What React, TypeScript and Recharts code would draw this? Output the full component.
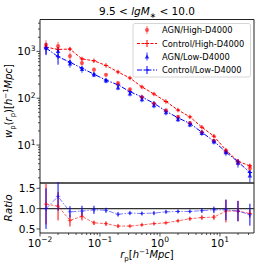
import React from 'react';
import { ComposedChart, Line, Scatter, XAxis, YAxis, ErrorBar, ReferenceLine, ReferenceArea } from 'recharts';

// projected separation r_p [h^-1 Mpc]
const rp = [0.0126, 0.02, 0.0316, 0.0501, 0.0794, 0.126, 0.2, 0.316, 0.501, 0.794, 1.26, 2.0, 3.16, 5.01, 7.94, 12.6, 20.0, 31.6];

// w_p(r_p) values
const agnHigh = [1380, 1290, 795, 562, 407, 316, 209, 155, 105, 76, 55, 40, 29.5, 18.6, 12.3, 7.2, 4.2, 3.2];
const agnHighErr = [350, 300, 150, 70, 40, 25, 18, 13, 9, 6, 4.5, 3.5, 2.5, 1.8, 1.2, 0.8, 0.6, 0.6];
const ctrlHigh = [1230, 1100, 1120, 690, 630, 500, 363, 270, 174, 123, 85, 56, 40, 24, 15.5, 7.8, 4.5, 3.6];
const ctrlHighErr = [150, 100, 80, 40, 20, 15, 10, 7, 5, 4, 3, 2, 1.5, 1, 0.8, 0.5, 0.4, 0.3];
const agnLow = [1180, 1000, 540, 410, 316, 234, 166, 123, 93, 69, 49, 35, 27, 17.8, 11.7, 6.9, 4.1, 2.2];
const agnLowErr = [300, 250, 90, 60, 35, 25, 18, 14, 11, 8, 6, 4, 3, 2, 1.4, 1.0, 0.8, 0.6];
const ctrlLow = [1180, 770, 587, 436, 326, 244, 193, 138, 106, 78, 53, 38, 29, 18.7, 12.1, 7.1, 4.4, 2.6];
const ctrlLowErr = [350, 250, 60, 30, 15, 10, 7, 5, 4, 3, 2, 1.5, 1.2, 0.9, 0.7, 0.5, 0.4, 0.3];

// ratios AGN / Control
const ratioHigh = [1.11, 1.06, 0.71, 0.81, 0.65, 0.63, 0.57, 0.57, 0.60, 0.63, 0.65, 0.70, 0.75, 0.78, 0.79, 0.94, 0.94, 0.88];
const ratioHighErr = [0.5, 0.35, 0.15, 0.1, 0.05, 0.05, 0.04, 0.03, 0.03, 0.03, 0.03, 0.03, 0.04, 0.05, 0.06, 0.28, 0.25, 0.1];
const ratioLow = [1.0, 1.30, 0.92, 0.94, 0.97, 0.96, 0.86, 0.89, 0.88, 0.89, 0.92, 0.93, 0.93, 0.95, 0.97, 0.97, 0.94, 0.85];
const ratioLowErr = [0.5, 0.35, 0.14, 0.13, 0.1, 0.06, 0.05, 0.04, 0.04, 0.04, 0.04, 0.04, 0.04, 0.05, 0.08, 0.25, 0.25, 0.27];

// ticks
const xTicks = [0.01, 0.02, 0.03, 0.04, 0.05, 0.06, 0.07, 0.08, 0.09, 0.1, 0.2, 0.3, 0.4, 0.5, 0.6, 0.7, 0.8, 0.9, 1, 2, 3, 4, 5, 6, 7, 8, 9, 10, 20, 30];
const yTicks = [2, 3, 4, 5, 6, 7, 8, 9, 10, 20, 30, 40, 50, 60, 70, 80, 90, 100, 200, 300, 400, 500, 600, 700, 800, 900, 1000, 2000, 3000, 4000];
const ratioTicks = [0.5, 1.0, 1.5];

const xDomain = [0.01, 37];
const yDomain = [1.55, 4790];
const ratioDomain = [0.4, 1.63];

const data = rp.map((r, i) => ({
  r,
  agnHigh: agnHigh[i],
  agnHighErr: agnHighErr[i],
  ctrlHigh: ctrlHigh[i],
  ctrlHighErr: ctrlHighErr[i],
  agnLow: agnLow[i],
  agnLowErr: agnLowErr[i],
  ctrlLow: ctrlLow[i],
  ctrlLowErr: ctrlLowErr[i],
  ratioHigh: ratioHigh[i],
  ratioHighErr: ratioHighErr[i],
  ratioLow: ratioLow[i],
  ratioLowErr: ratioLowErr[i],
}));

const FONT = 'DejaVu Sans';
const RED = '#ff0000';
const BLUE = '#0000ff';
const AX = '#222';

const isMajor = (v: number) => {
  const lg = Math.log10(v);
  return Math.abs(lg - Math.round(lg)) < 1e-6;
};
const expStr = (v: number) => {
  const e = Math.round(Math.log10(v));
  return e < 0 ? '\u2212' + Math.abs(e) : String(e);
};

const XTick = (props: any) => {
  const { x, y, payload } = props;
  const v = payload.value;
  const major = isMajor(v);
  return (
    <g>
      <line x1={x} x2={x} y1={y} y2={y + (major ? 3.5 : 2)} stroke={AX} strokeWidth={0.8} />
      {major && (
        <text x={x} y={y + 13.5} textAnchor="middle" fontSize={10.5} fontFamily={FONT} fill="#000">
          10<tspan dy={-4.5} fontSize={7.5}>{expStr(v)}</tspan>
        </text>
      )}
    </g>
  );
};

const YLogTick = (props: any) => {
  const { x, y, payload } = props;
  const v = payload.value;
  const major = isMajor(v);
  return (
    <g>
      <line x1={x - (major ? 3.5 : 2)} x2={x} y1={y} y2={y} stroke={AX} strokeWidth={0.8} />
      {major && (
        <text x={x - 4.5} y={y + 4} textAnchor="end" fontSize={10.5} fontFamily={FONT} fill="#000">
          10<tspan dy={-4.5} fontSize={7.5}>{expStr(v)}</tspan>
        </text>
      )}
    </g>
  );
};

const YRatioTick = (props: any) => {
  const { x, y, payload } = props;
  return (
    <g>
      <line x1={x - 3.5} x2={x} y1={y} y2={y} stroke={AX} strokeWidth={0.8} />
      <text x={x - 4.5} y={y + 4} textAnchor="end" fontSize={10.5} fontFamily={FONT} fill="#000">
        {Number(payload.value).toFixed(1)}
      </text>
    </g>
  );
};

const plus = (color: string, opacity = 1) => (props: any) => {
  const { cx, cy, index } = props;
  if (cx == null || cy == null) return <g key={index} />;
  return (
    <path
      key={index}
      d={`M${cx - 2.2},${cy}h4.4M${cx},${cy - 2.2}v4.4`}
      stroke={color}
      strokeOpacity={opacity}
      strokeWidth={1}
      fill="none"
    />
  );
};

const circleShape = (props: any) => (
  <circle cx={props.cx} cy={props.cy} r={2.1} fill={RED} fillOpacity={0.6} />
);
const triShape = (props: any) => {
  const { cx, cy } = props;
  return <path d={`M${cx},${cy - 2.6}L${cx + 2.3},${cy + 1.6}L${cx - 2.3},${cy + 1.6}Z`} fill={BLUE} fillOpacity={0.8} />;
};

export default function App() {
  return (
    <div style={{ position: 'absolute', left: 0, top: 0, width: 274, height: 274, background: '#fff', fontFamily: FONT }}>
      {/* Top panel */}
      <div style={{ position: 'absolute', left: 0, top: 0 }}>
        <ComposedChart width={274} height={188} data={data} margin={{ top: 19.5, right: 20, bottom: 5, left: 0 }}>
          <XAxis dataKey="r" type="number" scale="log" domain={xDomain} allowDataOverflow hide />
          <YAxis
            type="number"
            scale="log"
            domain={yDomain}
            allowDataOverflow
            width={40}
            ticks={yTicks}
            interval={0}
            tick={<YLogTick />}
            tickLine={false}
            axisLine={false}
            tickSize={0}
            tickMargin={0}
          />
          <ReferenceArea x1={xDomain[0]} x2={xDomain[1]} y1={yDomain[0]} y2={yDomain[1]} fill="none" stroke={AX} strokeWidth={1} />
          <Line dataKey="ctrlHigh" stroke={RED} strokeWidth={1} strokeDasharray="3 1.5" dot={plus(RED)} isAnimationActive={false}>
            <ErrorBar dataKey="ctrlHighErr" direction="y" stroke={RED} width={0} strokeWidth={1} />
          </Line>
          <Line dataKey="ctrlLow" stroke={BLUE} strokeWidth={1} strokeDasharray="5 1.5 1.5 1.5" dot={plus(BLUE)} isAnimationActive={false}>
            <ErrorBar dataKey="ctrlLowErr" direction="y" stroke={BLUE} width={0} strokeWidth={1} />
          </Line>
          <Scatter dataKey="agnHigh" shape={circleShape} isAnimationActive={false}>
            <ErrorBar dataKey="agnHighErr" direction="y" stroke={RED} strokeOpacity={0.6} width={0} strokeWidth={1} />
          </Scatter>
          <Scatter dataKey="agnLow" shape={triShape} isAnimationActive={false}>
            <ErrorBar dataKey="agnLowErr" direction="y" stroke={BLUE} strokeOpacity={0.8} width={0} strokeWidth={1} />
          </Scatter>
        </ComposedChart>
      </div>

      {/* Ratio panel */}
      <div style={{ position: 'absolute', left: 0, top: 178 }}>
        <ComposedChart width={274} height={96} data={data} margin={{ top: 5, right: 20, bottom: 0, left: 0 }}>
          <XAxis
            dataKey="r"
            type="number"
            scale="log"
            domain={xDomain}
            allowDataOverflow
            ticks={xTicks}
            interval={0}
            height={41}
            tick={<XTick />}
            tickLine={false}
            axisLine={false}
            tickSize={0}
            tickMargin={0}
          />
          <YAxis
            type="number"
            domain={ratioDomain}
            allowDataOverflow
            width={40}
            ticks={ratioTicks}
            interval={0}
            tick={<YRatioTick />}
            tickLine={false}
            axisLine={false}
            tickSize={0}
            tickMargin={0}
          />
          <ReferenceArea x1={xDomain[0]} x2={xDomain[1]} y1={ratioDomain[0]} y2={ratioDomain[1]} fill="none" stroke={AX} strokeWidth={1} />
          <ReferenceLine y={1} stroke="#333" strokeWidth={1.2} />
          <Line dataKey="ratioHigh" stroke={RED} strokeOpacity={0.6} strokeWidth={1} strokeDasharray="3 1.5" dot={plus(RED, 0.6)} isAnimationActive={false}>
            <ErrorBar dataKey="ratioHighErr" direction="y" stroke={RED} width={0} strokeWidth={1} />
          </Line>
          <Line dataKey="ratioLow" stroke={BLUE} strokeOpacity={0.5} strokeWidth={1} strokeDasharray="5 1.5 1.5 1.5" dot={plus(BLUE, 0.5)} isAnimationActive={false}>
            <ErrorBar dataKey="ratioLowErr" direction="y" stroke={BLUE} width={0} strokeWidth={1} />
          </Line>
        </ComposedChart>
      </div>

      {/* Text overlay: title, axis labels, legend */}
      <svg width={274} height={274} style={{ position: 'absolute', left: 0, top: 0, pointerEvents: 'none' }} fontFamily={FONT}>
        <text x={147} y={15} textAnchor="middle" fontSize={10.5} fill="#000">
          9.5 &lt; <tspan fontStyle="italic">lgM</tspan><tspan dy={2.5} fontSize={7.5}>∗</tspan><tspan dy={-2.5}> &lt; 10.0</tspan>
        </text>

        <text transform="translate(12,101) rotate(-90)" textAnchor="middle" fontSize={10} fill="#000">
          <tspan fontStyle="italic">w</tspan>
          <tspan dy={2.5} fontSize={7}>p</tspan>
          <tspan dy={-2.5}>(</tspan>
          <tspan fontStyle="italic">r</tspan>
          <tspan dy={2.5} fontSize={7}>p</tspan>
          <tspan dy={-2.5}>)[</tspan>
          <tspan fontStyle="italic">h</tspan>
          <tspan dy={-4} fontSize={7}>−1</tspan>
          <tspan dy={4} fontStyle="italic">Mpc</tspan>
          <tspan>]</tspan>
        </text>

        <text transform="translate(12,208) rotate(-90)" textAnchor="middle" fontSize={10.5} fontStyle="italic" fill="#000">
          Ratio
        </text>

        <text x={147} y={258} textAnchor="middle" fontSize={10} fill="#000">
          <tspan fontStyle="italic">r</tspan>
          <tspan dy={2.5} fontSize={7}>p</tspan>
          <tspan dy={-2.5}>[</tspan>
          <tspan fontStyle="italic">h</tspan>
          <tspan dy={-4} fontSize={7}>−1</tspan>
          <tspan dy={4} fontStyle="italic">Mpc</tspan>
          <tspan>]</tspan>
        </text>

        {/* legend */}
        <rect x={133} y={23.5} width={117.5} height={53.5} rx={2} fill="#fff" fillOpacity={0.85} stroke="#cccccc" strokeWidth={0.8} />
        <g fontSize={8.3} fill="#000">
          <line x1={147} x2={147} y1={26} y2={34} stroke={RED} strokeOpacity={0.6} strokeWidth={1} />
          <circle cx={147} cy={30} r={2.1} fill={RED} fillOpacity={0.6} />
          <text x={162} y={33}>AGN/High-D4000</text>

          <line x1={137} x2={157} y1={43.5} y2={43.5} stroke={RED} strokeWidth={1} strokeDasharray="3 1.5" />
          <path d="M144.8,43.5h4.4" stroke={RED} strokeWidth={1} />
          <line x1={147} x2={147} y1={40} y2={47} stroke={RED} strokeWidth={1} />
          <text x={162} y={46.5}>Control/High-D4000</text>

          <line x1={147} x2={147} y1={52.5} y2={60.5} stroke={BLUE} strokeOpacity={0.8} strokeWidth={1} />
          <path d="M147,54.4L149.3,58.6L144.7,58.6Z" fill={BLUE} fillOpacity={0.8} />
          <text x={162} y={60}>AGN/Low-D4000</text>

          <line x1={137} x2={157} y1={70} y2={70} stroke={BLUE} strokeWidth={1} strokeDasharray="5 1.5 1.5 1.5" />
          <path d="M144.8,70h4.4" stroke={BLUE} strokeWidth={1} />
          <line x1={147} x2={147} y1={66} y2={74} stroke={BLUE} strokeWidth={1} />
          <text x={162} y={73}>Control/Low-D4000</text>
        </g>
      </svg>
    </div>
  );
}
